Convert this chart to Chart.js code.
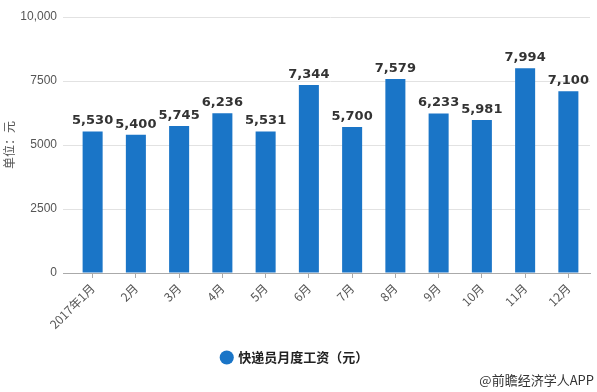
<!DOCTYPE html>
<html>
<head>
<meta charset="utf-8">
<script src="https://cdn.jsdelivr.net/npm/chart.js@4/dist/chart.umd.min.js"></script>
<style>
  html, body { margin: 0; padding: 0; background: #fff; }
  #wrap { width: 597px; height: 392px; position: relative; }
</style>
</head>
<body>
<div id="wrap"><canvas id="salaryChart"></canvas></div>
<script>
// monthly courier salary, 2017
const months = ['2017年1月', '2月', '3月', '4月', '5月', '6月', '7月', '8月', '9月', '10月', '11月', '12月'];
const salary = [5530, 5400, 5745, 6236, 5531, 7344, 5700, 7579, 6233, 5981, 7994, 7100];
const yTicks = [0, 2500, 5000, 7500, 10000];
const seriesName = '快递员月度工资（元）';

const cjk = '"Noto Sans CJK SC", "Noto Sans", sans-serif';

// value labels above each bar
const barLabels = {
    id: 'barLabels',
    afterDatasetsDraw(chart) {
        const ctx = chart.ctx;
        const meta = chart.getDatasetMeta(0);
        ctx.save();
        ctx.font = 'bold 13px "DejaVu Sans", sans-serif';
        ctx.fillStyle = '#333';
        ctx.textAlign = 'center';
        ctx.textBaseline = 'bottom';
        meta.data.forEach((bar, i) => {
            ctx.fillText(salary[i].toLocaleString('en-US'), bar.x, bar.y - 4);
        });
        ctx.restore();
    }
};

// source note, bottom right
const sourceNote = {
    id: 'sourceNote',
    afterDraw(chart) {
        const ctx = chart.ctx;
        ctx.save();
        ctx.font = '13px ' + cjk;
        ctx.fillStyle = '#333';
        ctx.textAlign = 'right';
        ctx.textBaseline = 'middle';
        ctx.fillText('@前瞻经济学人APP', 594, 380);
        ctx.restore();
    }
};

const ctx = document.getElementById('salaryChart').getContext('2d');
new Chart(ctx, {
    type: 'bar',
    data: {
        labels: months,
        datasets: [{
            label: seriesName,
            data: salary,
            backgroundColor: '#1a75c7',
            barPercentage: 0.463,
            categoryPercentage: 1
        }]
    },
    options: {
        responsive: true,
        maintainAspectRatio: false,
        animation: false,
        layout: { padding: { top: 17, right: 7, left: 0, bottom: 18 } },
        plugins: {
            tooltip: { enabled: false },
            legend: {
                position: 'bottom',
                labels: {
                    usePointStyle: true,
                    pointStyle: 'circle',
                    boxWidth: 10,
                    boxHeight: 10,
                    padding: 10,
                    color: '#222',
                    font: { family: cjk, size: 13, weight: 'bold' }
                }
            }
        },
        scales: {
            x: {
                afterFit: s => { s.height = 68; },
                grid: {
                    drawOnChartArea: false,
                    drawTicks: true,
                    tickLength: 5,
                    offset: false,
                    color: '#aaa'
                },
                border: { color: '#aaa' },
                ticks: {
                    minRotation: 45,
                    maxRotation: 45,
                    color: '#555',
                    font: { family: cjk, size: 12 }
                }
            },
            y: {
                min: 0,
                max: 10000,
                afterFit: s => { s.width = 71; },
                afterBuildTicks: s => { s.ticks = yTicks.map(v => ({ value: v })); },
                grid: {
                    tickLength: 8,
                    color: c => (c.tick && c.tick.value === 0 ? '#aaa' : '#e2e2e2')
                },
                border: { display: false },
                ticks: {
                    padding: 6,
                    color: '#555',
                    font: { family: '"Liberation Sans", Arial, sans-serif', size: 12 },
                    callback: v => (v >= 10000 ? v.toLocaleString('en-US') : String(v))
                },
                title: {
                    display: true,
                    text: '单位：元',
                    color: '#555',
                    padding: { top: 2, bottom: 0 },
                    font: { family: cjk, size: 12 }
                }
            }
        }
    },
    plugins: [barLabels, sourceNote]
});
</script>
</body>
</html>
